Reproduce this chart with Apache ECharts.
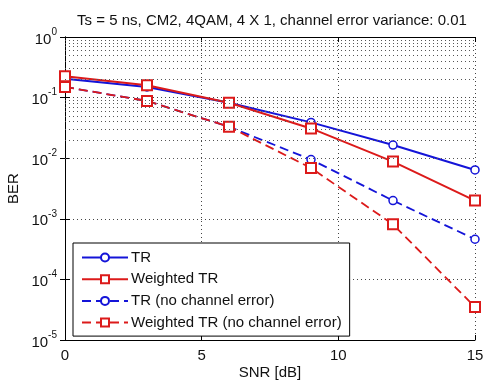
<!DOCTYPE html>
<html>
<head>
<meta charset="utf-8">
<script src="https://cdn.jsdelivr.net/npm/echarts@6/dist/echarts.min.js"></script>
<style>
  html, body { margin: 0; padding: 0; background: #fff; }
  #chart { width: 483px; height: 381px; }
</style>
</head>
<body>
<div id="chart"></div>
<script>
// SNR [dB]
const snr = [0, 3, 6, 9, 12, 15];
// BER values
const berTR = [0.205, 0.15, 0.082, 0.039, 0.0165, 0.0064];
const berWeighted = [0.225, 0.16, 0.082, 0.031, 0.0088, 0.0020];
const berTRNoErr = [0.15, 0.088, 0.033, 0.0095, 0.0020, 0.00046];
const berWeightedNoErr = [0.15, 0.088, 0.033, 0.0069, 0.00081, 0.000035];

const seriesNames = ['TR', 'Weighted TR', 'TR (no channel error)', 'Weighted TR (no channel error)'];
const xTicks = [0, 5, 10, 15];

const BLUE = '#1414d8';
const RED = '#dc1a1a';
const FONT = 'Liberation Sans';
const FS = 15;

// matlab style minor grid at 2..9 of each decade
const minorLines = [];
for (let e = -5; e < 0; e++) {
  for (let m = 2; m <= 9; m++) minorLines.push({ yAxis: m * Math.pow(10, e) });
}

const pair = (ys) => snr.map((x, i) => [x, ys[i]]);

const chart = echarts.init(document.getElementById('chart'));

const option = {
  animation: false,
  backgroundColor: '#fff',
  title: {
    text: 'Ts = 5 ns, CM2, 4QAM, 4 X 1, channel error variance: 0.01',
    left: 267,
    textAlign: 'center',
    top: 8,
    textStyle: { fontFamily: FONT, fontSize: FS, fontWeight: 'normal', color: '#111' }
  },
  grid: { left: 65, right: 8, top: 37, bottom: 41, show: false, outerBoundsMode: 'none', containLabel: false },
  legend: {
    orient: 'vertical',
    left: 73,
    top: 243,
    data: seriesNames,
    backgroundColor: '#fff',
    borderColor: '#000',
    borderWidth: 1,
    padding: [7, 8, 6, 8],
    itemWidth: 46,
    itemHeight: 10,
    itemGap: 6.7,
    textStyle: { fontFamily: FONT, fontSize: FS, color: '#111', padding: [0, 0, 0, -2] }
  },
  xAxis: [{
    type: 'value',
    min: 0,
    max: 15,
    interval: 5,
    name: 'SNR [dB]',
    nameLocation: 'middle',
    nameGap: 25,
    nameMoveOverlap: false,
    nameTextStyle: { fontFamily: FONT, fontSize: FS, color: '#111' },
    axisLine: { show: true, lineStyle: { color: '#000', width: 1 } },
    axisTick: { inside: true, length: 5, lineStyle: { color: '#000' } },
    axisLabel: {
      fontFamily: FONT, fontSize: FS, color: '#111', margin: 8,
      formatter: (v) => (xTicks.includes(v) ? String(v) : '')
    },
    splitLine: { show: true, lineStyle: { color: '#444', type: [1, 3], width: 1 } }
  }, {
    type: 'value',
    min: 0,
    max: 15,
    interval: 5,
    position: 'top',
    axisLine: { show: true, lineStyle: { color: '#000', width: 1 } },
    axisTick: { inside: true, length: 5, lineStyle: { color: '#000' } },
    axisLabel: { show: false },
    splitLine: { show: false }
  }],
  yAxis: [{
    type: 'log',
    logBase: 10,
    min: 1e-5,
    max: 1,
    name: 'BER',
    nameLocation: 'middle',
    nameGap: 44,
    nameMoveOverlap: false,
    nameTextStyle: { fontFamily: FONT, fontSize: FS, color: '#111' },
    axisLine: { show: true, lineStyle: { color: '#000', width: 1 } },
    axisTick: { inside: true, length: 5, lineStyle: { color: '#000' } },
    axisLabel: {
      margin: 8,
      formatter: (v) => {
        const e = Math.round(Math.log10(v));
        return '{b|10}{s|' + e + '}';
      },
      rich: {
        b: { fontFamily: FONT, fontSize: FS, color: '#111', verticalAlign: 'bottom', lineHeight: 20 },
        s: { fontFamily: FONT, fontSize: 10, color: '#111', verticalAlign: 'top', lineHeight: 20 }
      }
    },
    splitLine: { show: true, lineStyle: { color: '#444', type: [1, 3], width: 1 } }
  }, {
    type: 'log',
    logBase: 10,
    min: 1e-5,
    max: 1,
    position: 'right',
    axisLine: { show: true, lineStyle: { color: '#000', width: 1 } },
    axisTick: { inside: true, length: 5, lineStyle: { color: '#000' } },
    axisLabel: { show: false },
    splitLine: { show: false }
  }],
  series: [
    {
      name: 'grid-minor',
      type: 'line',
      data: [],
      silent: true,
      markLine: {
        silent: true,
        symbol: 'none',
        label: { show: false },
        lineStyle: { color: '#555', type: [1, 3], width: 1 },
        data: minorLines
      }
    },
    {
      name: seriesNames[0],
      type: 'line',
      data: pair(berTR),
      symbol: 'circle',
      symbolSize: 8,
      itemStyle: { color: '#fff', borderColor: BLUE, borderWidth: 1.5 },
      lineStyle: { color: BLUE, width: 2 },
      z: 3
    },
    {
      name: seriesNames[1],
      type: 'line',
      data: pair(berWeighted),
      symbol: 'rect',
      symbolSize: 10,
      itemStyle: { color: '#fff', borderColor: RED, borderWidth: 2 },
      lineStyle: { color: RED, width: 2 },
      z: 4
    },
    {
      name: seriesNames[2],
      type: 'line',
      data: pair(berTRNoErr),
      symbol: 'circle',
      symbolSize: 8,
      itemStyle: { color: '#fff', borderColor: BLUE, borderWidth: 1.5 },
      lineStyle: { color: BLUE, width: 1.8, type: [9, 5] },
      z: 3
    },
    {
      name: seriesNames[3],
      type: 'line',
      data: pair(berWeightedNoErr),
      symbol: 'rect',
      symbolSize: 10,
      itemStyle: { color: '#fff', borderColor: RED, borderWidth: 2 },
      lineStyle: { color: RED, width: 1.8, type: [9, 5] },
      z: 4
    }
  ]
};

chart.setOption(option);
</script>
</body>
</html>
